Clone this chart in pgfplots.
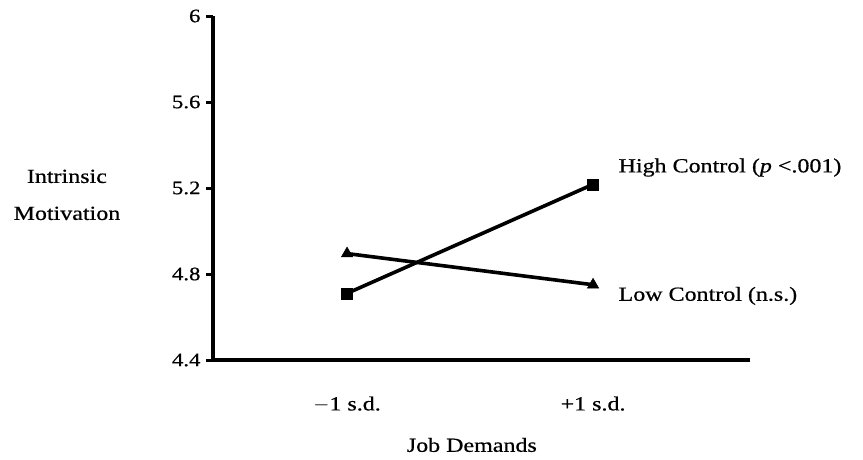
\documentclass[border=0pt]{standalone}
\usepackage{fontspec}
\setmainfont{Liberation Serif}[FakeStretch=1.2, FakeBold=0.6]
\usepackage{pgfplots}
\pgfplotsset{compat=1.18}
\begin{document}
\begin{tikzpicture}
\path[use as bounding box] (-213pt,-99pt) rectangle (650pt,360pt);
\begin{axis}[
  scale only axis, width=537pt, height=344pt,
  anchor=south west, at={(0pt,0pt)},
  xmin=-0.545, xmax=1.638, ymin=4.4, ymax=6,
  axis lines=left,
  axis line style={-, line width=4pt},
  xtick={0,1}, xticklabels={$-$1 s.d., +1 s.d.},
  xtick style={draw=none},
  xticklabel style={font=\fontsize{20}{24}\selectfont, yshift=-26pt},
  ytick={4.4,4.8,5.2,5.6,6}, yticklabels={4.4,4.8,5.2,5.6,6},
  ytick style={line width=3pt, black},
  tick align=outside, major tick length=7pt,
  yticklabel style={font=\fontsize{19}{22}\selectfont, xshift=-2pt},
  /pgf/number format/assume math mode=true,
  xlabel={Job Demands},
  xlabel style={font=\fontsize{20}{24}\selectfont, at={(axis description cs:0.482,-0.247)}, anchor=center},
  ylabel={Intrinsic\\Motivation},
  ylabel style={font=\fontsize{20}{37}\selectfont, rotate=-90, align=center, at={(axis description cs:-0.272,0.48)}, anchor=center},
  clip=false,
]
\addplot[black, line width=3.6pt, mark=square*, mark size=5.5pt, mark options={solid, line width=0.5pt}] coordinates {(0,4.71) (1,5.217)};
\addplot[black, line width=3.6pt, mark=triangle*, mark size=6.5pt, mark options={solid, line width=0.5pt}] coordinates {(0,4.895) (1,4.75)};
\node[anchor=base west, font=\fontsize{20}{24}\selectfont, xshift=22pt, yshift=12pt] at (axis cs:1,5.217) {High Control (\textit{p} <.001)};
\node[anchor=base west, font=\fontsize{20}{24}\selectfont, xshift=22pt, yshift=-16pt] at (axis cs:1,4.75) {Low Control (n.s.)};
\end{axis}
\end{tikzpicture}
\end{document}
